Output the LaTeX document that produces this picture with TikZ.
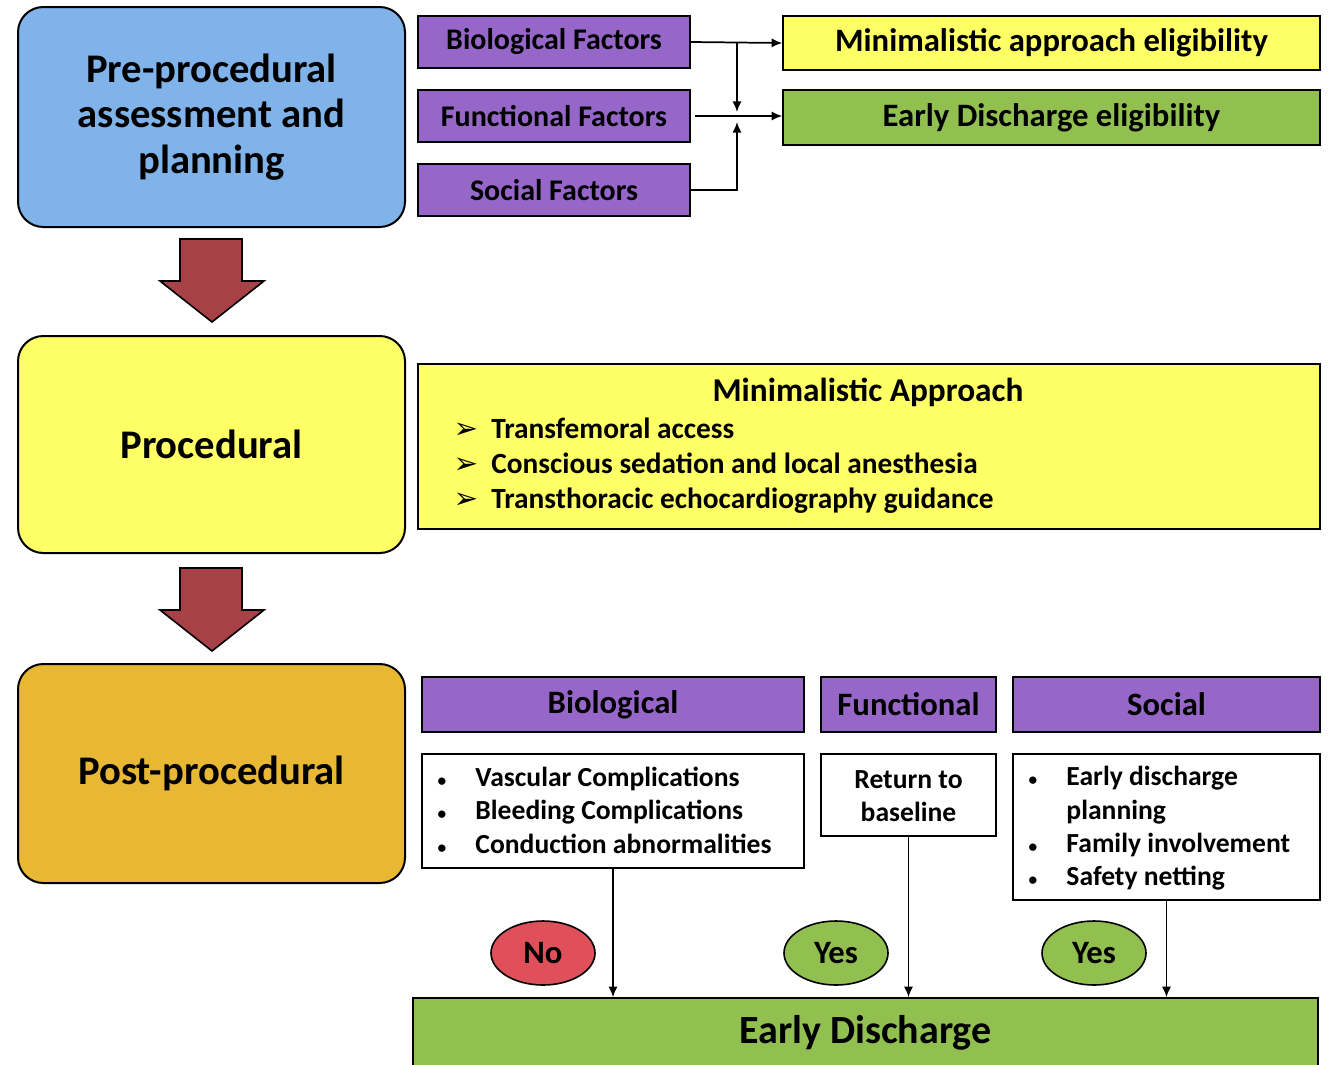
\documentclass[tikz,border=0pt]{standalone}
\usepackage{fontspec}
\setmainfont{Carlito}
\newfontfamily\dingfont{DejaVu Sans}
\usetikzlibrary{shapes.geometric,arrows.meta}

\definecolor{preblue}{RGB}{127,179,234}
\definecolor{procyellow}{RGB}{255,255,102}
\definecolor{postorange}{RGB}{232,184,52}
\definecolor{factorpurple}{RGB}{150,102,200}
\definecolor{elgreen}{RGB}{146,192,80}
\definecolor{flowred}{RGB}{168,64,72}
\definecolor{nored}{RGB}{224,80,90}

\newcommand{\smallbullet}{{\fontsize{13}{13}\selectfont\textbullet}}

\tikzset{every picture/.style={line width=0.75pt}}
\tikzset{
  stagebox/.style={draw=black, line width=1.5pt, rounded corners=19pt, align=center, inner sep=0pt,
    minimum width=290.25pt, font=\fontsize{30.5}{34}\selectfont\bfseries},
  factorbox/.style={draw=black, line width=1.2pt, fill=factorpurple, inner sep=0pt,
    minimum width=204pt, minimum height=39pt, font=\fontsize{22.5}{26}\selectfont\bfseries},
  eligbox/.style={draw=black, line width=1.2pt, inner sep=0pt,
    minimum width=402.75pt, minimum height=40.5pt, font=\fontsize{24.5}{28}\selectfont\bfseries},
  headbox/.style={draw=black, line width=1.2pt, fill=factorpurple, inner sep=0pt,
    minimum height=41.25pt, font=\fontsize{24.5}{28}\selectfont\bfseries},
  listbox/.style={draw=black, line width=1.2pt, fill=white, inner sep=0pt},
  listtext/.style={inner sep=0pt, align=left, font=\fontsize{20.7}{25}\selectfont\bfseries},
  answer/.style={ellipse, draw=black, line width=1.2pt, inner sep=0pt,
    minimum width=78pt, minimum height=48pt, font=\fontsize{24.5}{28}\selectfont\bfseries},
  flowarrow/.style={draw=black, line width=1.2pt, fill=flowred},
  link/.style={draw=black, line width=1.3pt, -{Latex[length=8pt,width=7pt]}},
}

\begin{document}
\begin{tikzpicture}[x=0.75pt,y=0.75pt,yscale=-1,xscale=1]
\useasboundingbox (0,0) rectangle (1330,1064);

% Stages
\node (pre) [stagebox, fill=preblue, minimum height=165pt] at (211.5,117) {Pre-procedural\\assessment and\\planning};
\node (proc) [stagebox, fill=procyellow, minimum height=162.75pt] at (211.5,444.5) {Procedural};
\node (post) [stagebox, fill=postorange, minimum height=164.25pt] at (211.5,773.5) {Post-procedural};

% Red flow arrows
\draw [flowarrow] (180,239) -- (242,239) -- (242,281) -- (264,281) -- (212,322) -- (160,281) -- (180,281) -- cycle ;
\draw [flowarrow] (180,568) -- (242,568) -- (242,610) -- (264,610) -- (212,651) -- (160,610) -- (180,610) -- cycle ;

% Factors
\node (biof) [factorbox] at (554,42) {Biological Factors};
\node (funf) [factorbox] at (554,116) {Functional Factors};
\node (socf) [factorbox] at (554,190) {Social Factors};

% Eligibility
\node (minel) [eligbox, fill=procyellow] at (1051.5,43) {Minimalistic approach eligibility};
\node (disel) [eligbox, fill=elgreen, minimum height=41.25pt] at (1051.5,117.5) {Early Discharge eligibility};

% Factor links
\coordinate (jtop) at (737,42);
\coordinate (jdown) at (737,112);
\coordinate (jup) at (737,122);
\coordinate (funstart) at (695,116);
\draw [link] (biof.east) -- (minel.west);
\draw [link] (funstart) -- (funstart -| disel.west);
\draw [link] (jtop) -- (jdown);
\draw [link] (socf.east) -| (jup);

% Minimalistic approach
\node (mabox) [draw=black, line width=1.2pt, fill=procyellow, minimum width=676.5pt, minimum height=123.75pt, inner sep=0pt] at (869,446.5) {};
\node (matitle) [inner sep=0pt, font=\fontsize{25}{28}\selectfont\bfseries] at (868,392) {Minimalistic Approach};
\node (malist) [anchor=west, inner sep=0pt, font=\fontsize{22}{26.25}\selectfont\bfseries] at (453,466) {%
\begin{tabular}{@{}l@{\hspace{10pt}}l@{}}
{\dingfont ➢} & Transfemoral access\\
{\dingfont ➢} & Conscious sedation and local anesthesia\\
{\dingfont ➢} & Transthoracic echocardiography guidance
\end{tabular}};

% Post-procedural headers
\node (bioh) [headbox, minimum width=286.5pt] at (613,704.5) {Biological};
\node (funh) [headbox, minimum width=131.25pt] at (908.5,704.5) {Functional};
\node (soch) [headbox, minimum width=230.25pt] at (1166.5,704.5) {Social};

% Post-procedural lists
\node (biol) [listbox, minimum width=286.5pt, minimum height=85.5pt] at (613,811) {};
\node (funl) [listbox, minimum width=131.25pt, minimum height=61.5pt] at (908.5,795) {};
\node (socl) [listbox, minimum width=230.25pt, minimum height=109.5pt] at (1166.5,827) {};
\node (biotext) [listtext, anchor=west] at (437,813) {%
\begin{tabular}{@{}l@{\hspace{22pt}}l@{}}
\smallbullet & Vascular Complications\\
\smallbullet & Bleeding Complications\\
\smallbullet & Conduction abnormalities
\end{tabular}};
\node (funtext) [listtext, align=center] at (908.5,796) {Return to\\baseline};
\node (soctext) [listtext, anchor=west] at (1028,829) {%
\begin{tabular}{@{}l@{\hspace{22pt}}l@{}}
\smallbullet & Early discharge\\
 & planning\\
\smallbullet & Family involvement\\
\smallbullet & Safety netting
\end{tabular}};

% Outcome
\node (ed) [draw=black, line width=1.2pt, fill=elgreen, minimum width=678.75pt, minimum height=52.5pt, inner sep=0pt, font=\fontsize{30}{34}\selectfont\bfseries] at (865.5,1033) {Early Discharge};
\node (ansno) [answer, fill=nored] at (543,953) {No};
\node (ansfun) [answer, fill=elgreen] at (836,953) {Yes};
\node (anssoc) [answer, fill=elgreen] at (1094,953) {Yes};

\draw [link] (biol.south) -- (biol.south |- ed.north);
\draw [link] (funl.south) -- (funl.south |- ed.north);
\draw [link] (socl.south) -- (socl.south |- ed.north);

\end{tikzpicture}
\end{document}
